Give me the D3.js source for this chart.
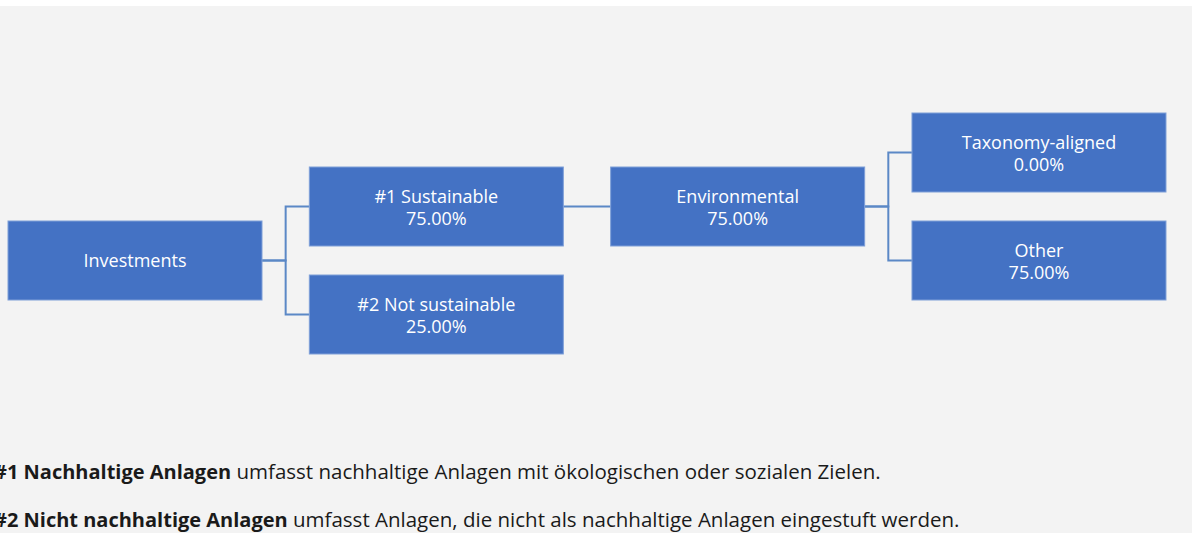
<!DOCTYPE html>
<html lang="de">

<head>
    <meta charset="UTF-8">
    <title>Asset allocation tree</title>
    <style>
        html, body { margin: 0; padding: 0; background: #ffffff; }
        svg { display: block; }
    </style>
</head>

<body>
    <script type="text/javascript" src="https://cdn.jsdelivr.net/npm/d3@7"></script>
    <script type="text/javascript">
    // node data
    var nodeNames = ["Investments", "#1 Sustainable", "#2 Not sustainable", "Environmental", "Taxonomy-aligned", "Other"];
    var nodeValues = [null, 75.00, 25.00, 75.00, 0.00, 75.00];
    var nodeParents = ["", "Investments", "Investments", "#1 Sustainable", "Environmental", "Environmental"];

    // footnotes (bold part, regular part)
    var noteBold = ["#1 Nachhaltige Anlagen", "#2 Nicht nachhaltige Anlagen"];
    var noteText = [" umfasst nachhaltige Anlagen mit ökologischen oder sozialen Zielen.",
                    " umfasst Anlagen, die nicht als nachhaltige Anlagen eingestuft werden."];

    var w = 1197,
        h = 533,
        boxW = 254,
        boxH = 79,
        boxFill = "#4472c4",
        lineColor = "#5b88c6";

    var svg = d3.select("body")
        .append("svg")
        .attr("width", w)
        .attr("height", h);

    svg.append("rect")
        .attr("x", 0)
        .attr("y", 6)
        .attr("width", 1192)
        .attr("height", h - 6)
        .attr("fill", "#f3f3f3");

    var table = nodeNames.map(function(d, i) {
        return { name: d, value: nodeValues[i], parent: nodeParents[i] };
    });

    var root = d3.stratify()
        .id(function(d) { return d.name; })
        .parentId(function(d) { return d.parent || null; })(table);

    d3.tree().nodeSize([1, 1])(root);

    var nodes = root.descendants();

    // columns by depth, rows by tree position
    var xScale = d3.scaleBand()
        .domain(d3.range(root.height + 1))
        .range([8, 1166])
        .paddingInner(0.157);

    var yScale = d3.scaleLinear()
        .domain(d3.extent(nodes, function(d) { return d.x; }))
        .range([152.5, 314.5]);

    var gap = xScale.step() - xScale.bandwidth();

    // elbow connectors
    svg.selectAll("path.link")
        .data(root.links())
        .enter()
        .append("path")
        .attr("class", "link")
        .attr("fill", "none")
        .attr("stroke", lineColor)
        .attr("stroke-width", 2)
        .attr("d", function(d) {
            var x0 = xScale(d.source.depth) + boxW,
                y0 = yScale(d.source.x),
                xm = x0 + gap / 2,
                x1 = xScale(d.target.depth),
                y1 = yScale(d.target.x);
            return "M" + x0 + "," + y0 + "H" + xm + "V" + y1 + "H" + x1;
        });

    var node = svg.selectAll("g.node")
        .data(nodes)
        .enter()
        .append("g")
        .attr("class", "node")
        .attr("transform", function(d) {
            return "translate(" + xScale(d.depth) + "," + (yScale(d.x) - boxH / 2) + ")";
        });

    node.append("rect")
        .attr("width", boxW)
        .attr("height", boxH)
        .attr("fill", boxFill)
        .attr("stroke", "#7e9fd8")
        .attr("stroke-width", 1);

    var label = node.append("text")
        .attr("x", boxW / 2)
        .attr("text-anchor", "middle")
        .attr("font-family", "'Open Sans', sans-serif")
        .attr("font-size", "18px")
        .attr("fill", "white");

    label.append("tspan")
        .attr("x", boxW / 2)
        .attr("y", function(d) { return d.data.value === null ? boxH / 2 + 6 : boxH / 2 - 3.5; })
        .text(function(d) { return d.data.name; });

    label.filter(function(d) { return d.data.value !== null; })
        .append("tspan")
        .attr("x", boxW / 2)
        .attr("y", boxH / 2 + 18.5)
        .text(function(d) { return d.data.value.toFixed(2) + "%"; });

    // footnotes
    var notes = svg.selectAll("text.note")
        .data(noteBold)
        .enter()
        .append("text")
        .attr("class", "note")
        .attr("x", -6)
        .attr("y", function(d, i) { return 479 + i * 48; })
        .attr("font-family", "'Open Sans', sans-serif")
        .attr("font-size", "20px")
        .attr("fill", "#1a1a1a");

    notes.append("tspan")
        .attr("font-weight", "bold")
        .text(function(d) { return d; });

    notes.append("tspan")
        .attr("font-size", "20.5px")
        .text(function(d, i) { return noteText[i]; });
    </script>
</body>

</html>
